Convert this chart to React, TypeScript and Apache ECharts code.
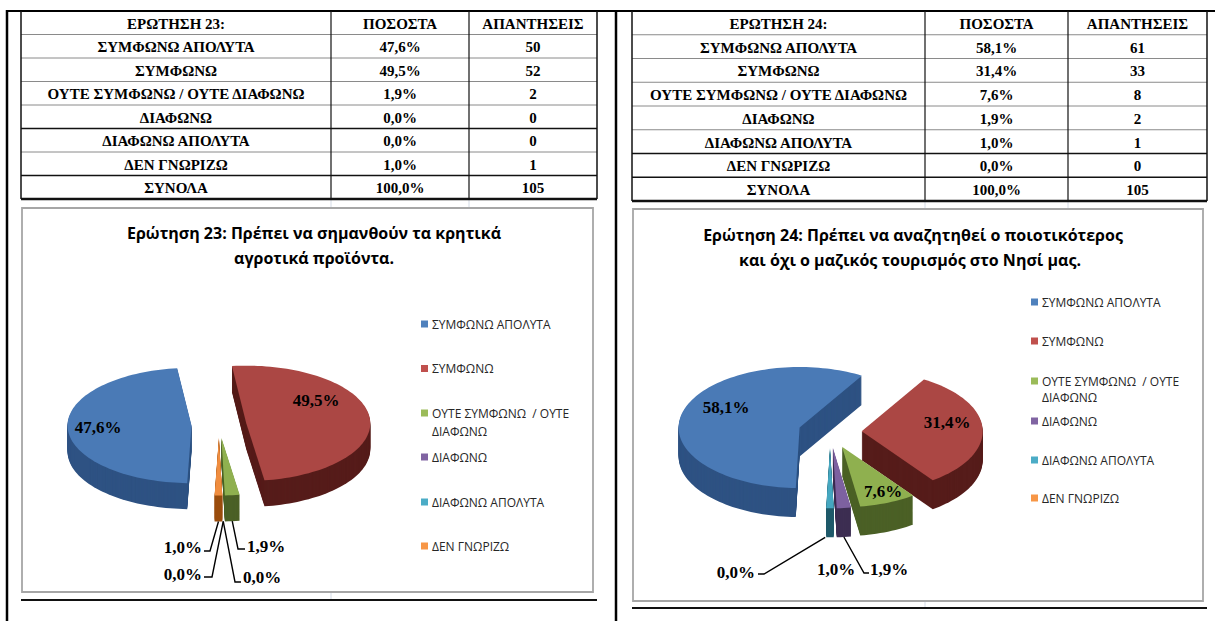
import React, { useEffect, useRef } from "react";
import * as echarts from "echarts";

// ---------- DATA ----------
const categories = [
  "ΣΥΜΦΩΝΩ ΑΠΟΛΥΤΑ",
  "ΣΥΜΦΩΝΩ",
  "ΟΥΤΕ ΣΥΜΦΩΝΩ / ΟΥΤΕ ΔΙΑΦΩΝΩ",
  "ΔΙΑΦΩΝΩ",
  "ΔΙΑΦΩΝΩ ΑΠΟΛΥΤΑ",
  "ΔΕΝ ΓΝΩΡΙΖΩ",
];
const legendLabels = [
  "ΣΥΜΦΩΝΩ ΑΠΟΛΥΤΑ",
  "ΣΥΜΦΩΝΩ",
  "ΟΥΤΕ ΣΥΜΦΩΝΩ  / ΟΥΤΕ\nΔΙΑΦΩΝΩ",
  "ΔΙΑΦΩΝΩ",
  "ΔΙΑΦΩΝΩ ΑΠΟΛΥΤΑ",
  "ΔΕΝ ΓΝΩΡΙΖΩ",
];
const headers23 = ["ΕΡΩΤΗΣΗ 23:", "ΠΟΣΟΣΤΑ", "ΑΠΑΝΤΗΣΕΙΣ"];
const headers24 = ["ΕΡΩΤΗΣΗ 24:", "ΠΟΣΟΣΤΑ", "ΑΠΑΝΤΗΣΕΙΣ"];
const q23Percent = [47.6, 49.5, 1.9, 0.0, 0.0, 1.0];
const q23Answers = [50, 52, 2, 0, 0, 1];
const q24Percent = [58.1, 31.4, 7.6, 1.9, 1.0, 0.0];
const q24Answers = [61, 33, 8, 2, 1, 0];
const totalLabel = "ΣΥΝΟΛΑ";
const totalPercent = 100.0;
const totalAnswers = 105;
const title23 = ["Ερώτηση 23: Πρέπει να σημανθούν τα κρητικά", "αγροτικά προϊόντα."];
const title24 = ["Ερώτηση 24: Πρέπει να αναζητηθεί ο ποιοτικότερος", "και όχι ο μαζικός τουρισμός στο Νησί μας."];

// ---------- STYLE / LAYOUT ----------
const topColors = ["#4a7ab6", "#ab4744", "#8fb04f", "#7d61a0", "#45a7c0", "#f08d3f"];
const sideColors = ["#2e5283", "#561c1a", "#4b6026", "#3d2e52", "#1f5a6a", "#9a4c0c"];
const legendColors = ["#4f81bd", "#c0504d", "#9bbb59", "#8064a2", "#4bacc6", "#f79646"];

const pie23 = { cx: 219, cy: 425, r: 124, k: 0.465, explode: 27.5, depth: 26, start: 182 };
const pie24 = { cx: 830, cy: 432, r: 121, k: 0.5, explode: 31.7, depth: 29, start: 181.8 };

type Lbl = { x: number; y: number; align: string; leader?: number[][] };
const labels23: Lbl[] = [
  { x: 98, y: 427, align: "center" },
  { x: 316, y: 400, align: "center" },
  { x: 247, y: 546, align: "left", leader: [[245, 549], [238, 549]] },
  { x: 202, y: 574, align: "right", leader: [[204, 577], [212, 577]] },
  { x: 243, y: 577, align: "left", leader: [[241, 582], [235, 582]] },
  { x: 202, y: 547, align: "right", leader: [[204, 551], [210, 551]] },
];
const labels24: Lbl[] = [
  { x: 726, y: 407, align: "center" },
  { x: 947, y: 422, align: "center" },
  { x: 883, y: 491, align: "center" },
  { x: 870, y: 569, align: "left", leader: [[869, 573], [864, 573]] },
  { x: 836, y: 569, align: "center" },
  { x: 755, y: 572, align: "right", leader: [[758, 574], [764, 574]] },
];

const fmtPct = (v: number) => v.toFixed(1).replace(".", ",") + "%";
const SERIF = '"Liberation Serif", "Times New Roman", serif';
const SANS = '"Open Sans", "Liberation Sans", sans-serif';

function txt(x: number, y: number, text: string, font: string, align = "center", fill = "#000", vAlign = "middle") {
  return {
    type: "text",
    x,
    y,
    silent: true,
    style: { text, font, fill, textAlign: align, align, textVerticalAlign: vAlign, verticalAlign: vAlign },
  };
}
function ln(x1: number, y1: number, x2: number, y2: number, stroke: string, lineWidth: number) {
  return { type: "line", silent: true, shape: { x1, y1, x2, y2 }, style: { stroke, lineWidth } };
}

function buildTable(xs: number[], y0: number, y1: number, head: string[], pct: number[], ans: number[], blackRows: number[]) {
  const els: any[] = [];
  const rows = 8;
  const rh = (y1 - y0) / rows;
  const rowsData: string[][] = [head];
  categories.forEach((c, i) => rowsData.push([c, fmtPct(pct[i]), String(ans[i])]));
  rowsData.push([totalLabel, fmtPct(totalPercent), String(totalAnswers)]);
  for (let r = 1; r < rows; r++) {
    const y = y0 + r * rh;
    const black = blackRows.indexOf(r) >= 0;
    els.push(ln(xs[0], y, xs[3], y, black ? "#111" : "#8a8a8a", black ? 1.5 : 1));
  }
  els.push(ln(xs[1], y0, xs[1], y1, "#111", 1.2));
  els.push(ln(xs[2], y0, xs[2], y1, "#111", 1.2));
  els.push(ln(xs[0], y0, xs[0], y1, "#111", 1.5));
  els.push(ln(xs[3], y0, xs[3], y1, "#111", 1.5));
  els.push(ln(xs[0], y1, xs[3], y1, "#111", 2.5));
  rowsData.forEach((row, r) => {
    const yc = y0 + rh * (r + 0.5) + 1;
    row.forEach((t, c) => {
      els.push(txt((xs[c] + xs[c + 1]) / 2, yc, t, `bold 15px ${SERIF}`));
    });
  });
  return els;
}

function buildLegend(sqX: number, txX: number, ys: number[], lineGap: number) {
  const els: any[] = [];
  legendLabels.forEach((l, i) => {
    els.push({
      type: "rect",
      silent: true,
      shape: { x: sqX, y: ys[i] - 3.5, width: 7, height: 7 },
      style: { fill: legendColors[i] },
    });
    l.split("\n").forEach((part, j) => {
      els.push(txt(txX, ys[i] + j * lineGap, part, `12px ${SANS}`, "left", "#262626"));
    });
  });
  return els;
}

function makeSeries(values: number[], cfg: typeof pie23, lbls: Lbl[]) {
  const total = values.reduce((a, b) => a + b, 0);
  const starts: number[] = [];
  let acc = cfg.start;
  values.forEach((v) => {
    starts.push(acc);
    acc += (v / total) * 360;
  });
  const rad = Math.PI / 180;
  return {
    type: "custom",
    coordinateSystem: "none",
    silent: true,
    z: 3,
    data: values.map((v, i) => ({ name: categories[i], value: v })),
    renderItem: (params: any, api: any) => {
      const i = params.dataIndex;
      const v = api.value(0);
      const span = (v / total) * 360;
      const a0 = starts[i];
      const mid = (a0 + span / 2) * rad;
      const ax = cfg.cx + cfg.explode * Math.sin(mid);
      const ay = cfg.cy - cfg.explode * cfg.k * Math.cos(mid);
      const children: any[] = [];
      if (span > 0) {
        const pts: number[][] = [[ax, ay]];
        const n = Math.max(2, Math.ceil(span / 2));
        for (let j = 0; j <= n; j++) {
          const t = (a0 + (span * j) / n) * rad;
          pts.push([ax + cfg.r * Math.sin(t), ay - cfg.r * cfg.k * Math.cos(t)]);
        }
        for (let s = cfg.depth; s >= 1; s--) {
          children.push({
            type: "polygon",
            shape: { points: pts.map((p) => [p[0], p[1] + s]) },
            style: { fill: sideColors[i] },
            z2: 1,
          });
        }
        children.push({
          type: "polygon",
          shape: { points: pts },
          style: { fill: topColors[i] },
          z2: 5,
        });
      }
      const lb = lbls[i];
      if (lb) {
        children.push({
          type: "text",
          z2: 20,
          style: {
            text: fmtPct(v),
            x: lb.x,
            y: lb.y,
            font: `bold 17px ${SERIF}`,
            fill: "#000",
            textAlign: lb.align,
            align: lb.align,
            textVerticalAlign: "middle",
            verticalAlign: "middle",
          },
        });
        if (lb.leader) {
          const anchor = [
            ax + cfg.r * Math.sin(mid),
            ay - cfg.r * cfg.k * Math.cos(mid) + cfg.depth,
          ];
          children.push({
            type: "polyline",
            z2: 19,
            shape: { points: [...lb.leader, anchor] },
            style: { stroke: "#000", lineWidth: 1.4, fill: "none" },
          });
        }
      }
      return { type: "group", children };
    },
  };
}

export default function App() {
  const ref = useRef<HTMLDivElement>(null);
  useEffect(() => {
    if (!ref.current) return;
    const chart = echarts.init(ref.current, undefined, { renderer: "svg" });
    const grid = "#d4dbe6";
    const elements: any[] = [
      // page frame lines
      ln(7, 11, 1215, 11, "#000", 2),
      ln(7, 10, 7, 621, "#000", 2.5),
      ln(616, 10, 616, 621, "#000", 2.5),
      // faint spreadsheet gridlines
      ln(331, 200, 331, 208, grid, 1),
      ln(469, 200, 469, 208, grid, 1),
      ln(331, 592, 331, 600, grid, 1),
      ln(925, 201, 925, 209, grid, 1),
      ln(1068, 201, 1068, 209, grid, 1),
      ln(925, 601, 925, 608, grid, 1),
      // chart frames
      { type: "rect", silent: true, shape: { x: 22, y: 208, width: 571, height: 384 }, style: { fill: "#fff", stroke: "#a6a6a6", lineWidth: 1.8 } },
      { type: "rect", silent: true, shape: { x: 633, y: 209, width: 570, height: 392 }, style: { fill: "#fff", stroke: "#a6a6a6", lineWidth: 1.8 } },
      ln(21, 600, 597, 600, "#111", 2),
      ln(632, 608, 1207, 608, "#111", 2),
      ...buildTable([21, 331, 469, 597], 11, 199, headers23, q23Percent, q23Answers, [5, 7]),
      ...buildTable([632, 925, 1068, 1207], 11, 201, headers24, q24Percent, q24Answers, [6, 7]),
      // titles
      txt(314, 233, title23[0], `bold 16px ${SANS}`),
      txt(314, 258, title23[1], `bold 16px ${SANS}`),
      txt(913, 235, title24[0], `bold 16px ${SANS}`),
      txt(910, 260, title24[1], `bold 16px ${SANS}`),
      ...buildLegend(421, 432, [324, 368.5, 413, 457, 502, 546], 18),
      ...buildLegend(1031, 1042, [302, 341, 381, 421, 460, 498], 16),
    ];
    chart.setOption({
      animation: false,
      backgroundColor: "#fff",
      graphic: { elements },
      series: [makeSeries(q23Percent, pie23, labels23), makeSeries(q24Percent, pie24, labels24)],
    });
    return () => chart.dispose();
  }, []);
  return (
    <div
      ref={ref}
      style={{ position: "fixed", left: 0, top: 0, width: 1215, height: 621, background: "#fff" }}
    />
  );
}
